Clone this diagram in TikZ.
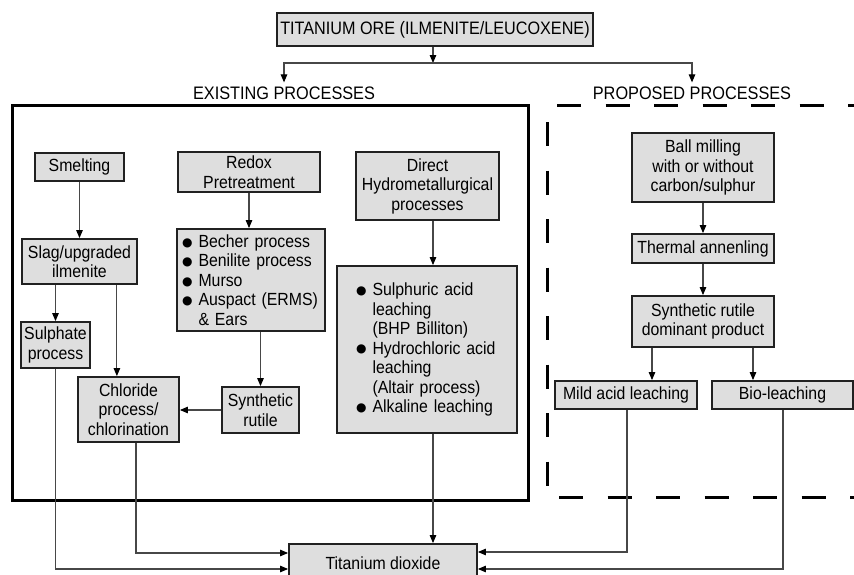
\documentclass[tikz,border=0pt]{standalone}
\usepackage{fontspec}
\setmainfont{Liberation Sans}[FakeStretch=0.9]
\newfontfamily\dejavu{DejaVu Sans}
\usetikzlibrary{arrows.meta}
\definecolor{boxfill}{gray}{0.87}
\definecolor{boxline}{gray}{0.13}
\definecolor{conn}{gray}{0.28}
\newcommand{\bul}{\makebox[16.5pt][l]{\raisebox{1.2pt}{\dejavu\fontsize{12}{12}\selectfont ●}}}
\newcommand{\bsp}{\makebox[16.5pt]{}}
\begin{document}
\begin{tikzpicture}[x=1pt,y=-1pt,
  font=\fontsize{17.6}{19.5}\selectfont,
  box/.style={draw=boxline, line width=1.8pt, fill=boxfill, inner sep=0pt, align=center},
  arr/.style={draw=conn, line width=1.1pt, -{Triangle[length=8pt,width=6.5pt,color=black]}},
  lbl/.style={inner xsep=0pt, inner ysep=4pt, font=\fontsize{18.1}{19}\selectfont},
  dsh/.style={draw=black, line width=3pt, dash pattern=on 24pt off 24.5pt}
]
\useasboundingbox (0,0) rectangle (854,574);
\fill[white] (0,0) rectangle (854,574);

% big frames
\draw[draw=black, line width=3pt] (12,105) rectangle (528,500);
\draw[dsh] (557,105) -- (860,105);
\draw[dsh] (547,122) -- (547,490);
\draw[dsh] (559,497) -- (860,497);

% top
\node[box, minimum width=316pt, minimum height=33pt, font=\fontsize{18}{19}\selectfont] (ore) at (435,29.5) {TITANIUM ORE (ILMENITE/LEUCOXENE)};
\node[lbl] (exist) at (284,93) {EXISTING PROCESSES};
\node[lbl] (prop) at (692,93) {PROPOSED PROCESSES};
\coordinate (split) at (433,63);

% existing processes
\node[box, minimum width=89pt, minimum height=28pt] (smelt) at (79.5,167) {Smelting};
\node[box, minimum width=115pt, minimum height=45pt] (slag) at (79.5,261.5) {Slag/upgraded\\ilmenite};
\node[box, minimum width=69pt, minimum height=46pt] (sulph) at (55.5,345) {Sulphate\\process};
\node[box, minimum width=142pt, minimum height=40pt] (redox) at (249,172) {Redox\\Pretreatment};
\node[box, align=left, inner xsep=5pt, text width=138pt, minimum height=102pt] (becher) at (251,280)
  {\bul Becher process\\ \bul Benilite process\\ \bul Murso\\ \bul Auspact (ERMS)\\ \bsp\& Ears};
\node[box, minimum width=77pt, minimum height=46pt] (synr) at (260.5,410) {Synthetic\\rutile};
\node[box, minimum width=101pt, minimum height=65pt] (chl) at (128.5,409.5) {Chloride\\process/\\chlorination};
\node[box, minimum width=143pt, minimum height=68pt] (direct) at (427.5,186) {Direct\\Hydrometallurgical\\processes};
\node[box, align=left, inner xsep=19pt, text width=142pt, minimum height=167pt] (hydro) at (427,349.5)
  {\bul Sulphuric acid\\ \bsp leaching\\ \bsp (BHP Billiton)\\ \bul Hydrochloric acid\\ \bsp leaching\\ \bsp (Altair process)\\ \bul Alkaline leaching};

% proposed processes
\node[box, minimum width=142pt, minimum height=69pt] (ball) at (703,167.5) {Ball milling\\with or without\\carbon/sulphur};
\node[box, minimum width=142pt, minimum height=29pt] (therm) at (703,248.5) {Thermal annenling};
\node[box, minimum width=142pt, minimum height=51pt] (dom) at (703,321.5) {Synthetic rutile\\dominant product};
\node[box, minimum width=142pt, minimum height=28pt] (mild) at (626,395) {Mild acid leaching};
\node[box, minimum width=141pt, minimum height=28pt] (bio) at (782.5,395) {Bio-leaching};

% product
\node[box, minimum width=188pt, minimum height=38pt] (tio) at (383,563) {Titanium dioxide};

% connectors
\draw[arr] (ore.south -| split) -- (split);
\draw[arr] (split) -| (exist.north);
\draw[arr] (split) -| (prop.north);
\draw[arr] (smelt) -- (slag);
\draw[arr] (slag.south -| sulph) -- (sulph);
\draw[arr] ([xshift=-21pt]slag.south east) -- ([xshift=-21pt]slag.south east |- chl.north);
\draw[arr] (redox.south) -- (redox.south |- becher.north);
\draw[arr] (becher.south -| synr) -- (synr);
\draw[arr] (synr.west) -- (synr.west -| chl.east);
\draw[arr] ([xshift=5.5pt]direct.south) -- ([xshift=5.5pt]direct.south |- hydro.north);
\draw[arr] ([xshift=6pt]hydro.south) -- ([xshift=6pt]hydro.south |- tio.north);
\draw[arr] ([xshift=7.5pt]chl.south) |- ([yshift=10pt]tio.west);
\draw[arr] (sulph.south) |- ([yshift=-6pt]tio.west);
\draw[arr] (ball) -- (therm);
\draw[arr] (therm) -- (dom);
\draw[arr] ([xshift=-51pt]dom.south) -- ([xshift=-51pt]dom.south |- mild.north);
\draw[arr] ([xshift=50pt]dom.south) -- ([xshift=50pt]dom.south |- bio.north);
\draw[arr] ([xshift=1pt]mild.south) |- ([yshift=11pt]tio.east);
\draw[arr] ([xshift=0.5pt]bio.south) |- ([yshift=-6pt]tio.east);
\end{tikzpicture}
\end{document}
